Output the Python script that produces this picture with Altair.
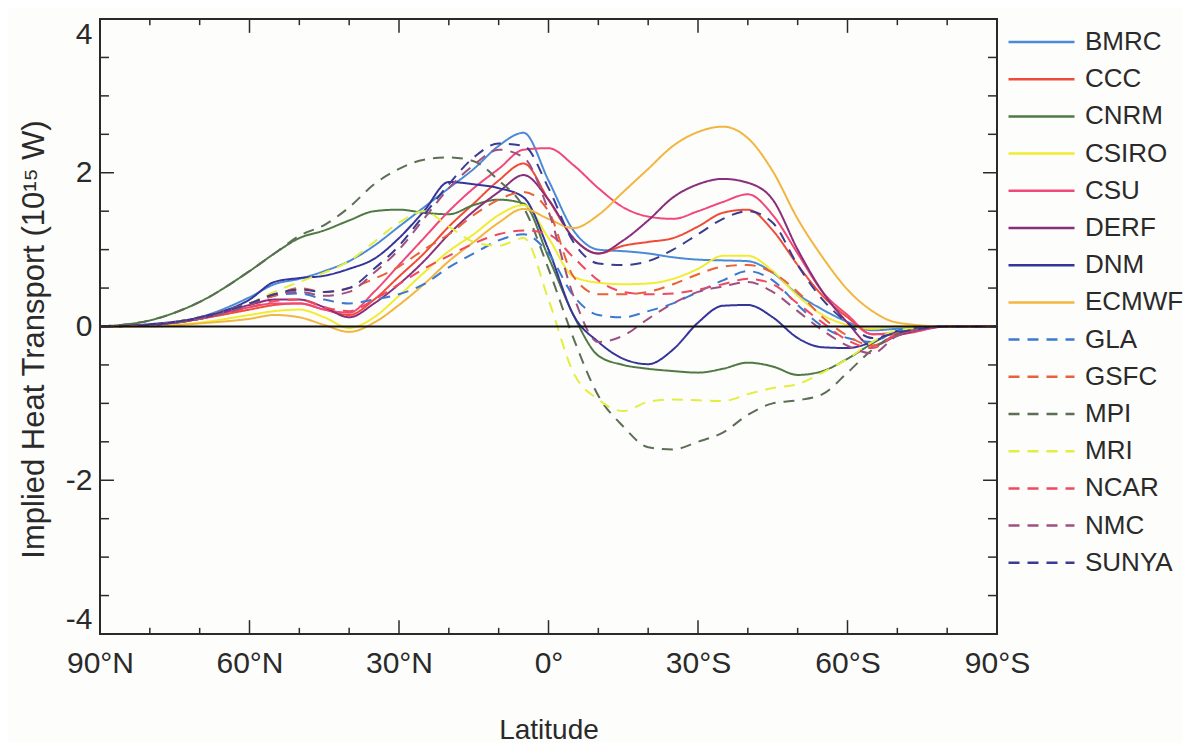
import altair as alt
import pandas as pd

LAT = [90, 80, 70, 60, 55, 50, 45, 40, 35, 30, 25, 20, 15, 10, 5, 0, -5, -10, -15, -20,
       -25, -30, -35, -40, -45, -50, -55, -60, -65, -70, -80, -90]

MODELS = ["BMRC", "CCC", "CNRM", "CSIRO", "CSU", "DERF", "DNM", "ECMWF",
          "GLA", "GSFC", "MPI", "MRI", "NCAR", "NMC", "SUNYA"]

COLORS = ["#4a8ad8", "#f04a38", "#4f7a44", "#f0ec30", "#f0487a", "#8a2e7c", "#34349a", "#f2b640",
          "#3c78d0", "#e8603c", "#5c6e56", "#e2ee40", "#f04860", "#a05080", "#3a3c90"]

BMRC = [0, 0.02, 0.12, 0.38, 0.55, 0.62, 0.72, 0.85, 1.05, 1.3, 1.55, 1.8, 2.05, 2.35, 2.52, 1.9, 1.25, 1.0, 0.98, 0.95,
        0.9, 0.87, 0.86, 0.85, 0.7, 0.42, 0.22, 0.06, -0.05, -0.03, 0, 0]
CCC = [0, 0.02, 0.1, 0.22, 0.28, 0.3, 0.22, 0.15, 0.35, 0.65, 0.95, 1.3, 1.6, 1.9, 2.12, 1.65, 1.15, 0.95, 1.05, 1.1,
       1.15, 1.3, 1.48, 1.52, 1.25, 0.8, 0.4, 0.12, -0.1, -0.08, 0, 0]
CNRM = [0, 0.08, 0.32, 0.72, 0.95, 1.15, 1.25, 1.38, 1.5, 1.52, 1.48, 1.46, 1.58, 1.65, 1.6, 0.9, 0.15, -0.38, -0.5, -0.55,
        -0.58, -0.6, -0.55, -0.47, -0.52, -0.63, -0.58, -0.42, -0.22, -0.06, 0, 0]
CSIRO = [0, 0.01, 0.05, 0.15, 0.2, 0.22, 0.12, -0.02, 0.12, 0.4, 0.7, 0.98, 1.2, 1.45, 1.58, 1.15, 0.65, 0.57, 0.55, 0.56,
         0.62, 0.75, 0.92, 0.92, 0.72, 0.4, 0.15, 0.02, -0.03, 0, 0, 0]
CSU = [0, 0.02, 0.1, 0.25, 0.3, 0.3, 0.22, 0.18, 0.45, 0.8, 1.15, 1.5, 1.8, 2.05, 2.3, 2.32, 2.1, 1.8, 1.55, 1.43,
       1.4, 1.5, 1.62, 1.72, 1.45, 0.95, 0.45, 0.15, -0.1, -0.1, 0, 0]
DERF = [0, 0.02, 0.1, 0.28, 0.35, 0.35, 0.25, 0.12, 0.3, 0.55, 0.85, 1.2, 1.5, 1.75, 1.97, 1.65, 1.15, 0.95, 1.12, 1.38,
        1.68, 1.85, 1.92, 1.87, 1.65, 1.0, 0.45, 0.05, -0.25, -0.12, 0, 0]
DNM = [0, 0.03, 0.12, 0.35, 0.58, 0.63, 0.66, 0.75, 0.88, 1.15, 1.5, 1.88, 1.85, 1.8, 1.68, 1.0, 0.15, -0.2, -0.42, -0.49,
       -0.3, 0.05, 0.27, 0.28, 0.12, -0.15, -0.27, -0.28, -0.2, -0.06, 0, 0]
ECMWF = [0, 0, 0.04, 0.1, 0.15, 0.12, 0.02, -0.07, 0.05, 0.28, 0.55, 0.85, 1.1, 1.35, 1.53, 1.4, 1.28, 1.45, 1.75, 2.05,
         2.35, 2.53, 2.6, 2.45, 2.02, 1.4, 0.9, 0.48, 0.2, 0.05, 0, 0]
GLA = [0, 0.02, 0.1, 0.3, 0.4, 0.43, 0.35, 0.3, 0.35, 0.42, 0.55, 0.77, 0.95, 1.12, 1.2, 0.95, 0.4, 0.15, 0.12, 0.2,
       0.3, 0.45, 0.6, 0.72, 0.6, 0.28, 0.0, -0.15, -0.2, -0.05, 0, 0]
GSFC = [0, 0.02, 0.12, 0.3, 0.4, 0.5, 0.45, 0.5, 0.62, 0.78, 1.0, 1.2, 1.45, 1.65, 1.75, 1.5, 0.65, 0.42, 0.42, 0.45,
        0.55, 0.68, 0.78, 0.8, 0.7, 0.45, 0.12, -0.12, -0.25, -0.1, 0, 0]
MPI = [0, 0.08, 0.32, 0.72, 0.95, 1.18, 1.32, 1.55, 1.85, 2.05, 2.17, 2.2, 2.15, 1.9, 1.55, 0.75, -0.15, -0.9, -1.3, -1.57,
       -1.6, -1.5, -1.38, -1.15, -1.0, -0.96, -0.88, -0.6, -0.3, -0.1, 0, 0]
MRI = [0, 0.02, 0.12, 0.3, 0.45, 0.58, 0.7, 0.85, 1.1, 1.35, 1.5, 1.3, 1.1, 1.05, 1.15, 0.35, -0.6, -0.95, -1.1, -0.98,
       -0.95, -0.96, -0.97, -0.88, -0.8, -0.75, -0.6, -0.42, -0.2, -0.05, 0, 0]
NCAR = [0, 0.02, 0.1, 0.25, 0.33, 0.35, 0.25, 0.2, 0.35, 0.55, 0.75, 0.92, 1.08, 1.2, 1.25, 1.2, 0.9, 0.6, 0.45, 0.42,
        0.43, 0.48, 0.55, 0.62, 0.55, 0.3, 0.05, -0.18, -0.28, -0.1, 0, 0]
NMC = [0, 0.02, 0.1, 0.28, 0.42, 0.45, 0.4, 0.45, 0.7, 1.0, 1.4, 1.8, 2.1, 2.3, 2.2, 1.5, 0.4, -0.2, -0.12, 0.1,
       0.3, 0.45, 0.52, 0.58, 0.45, 0.2, -0.05, -0.25, -0.35, -0.12, 0, 0]
SUNYA = [0, 0.02, 0.12, 0.3, 0.42, 0.48, 0.45, 0.5, 0.75, 1.05, 1.45, 1.85, 2.2, 2.38, 2.35, 1.8, 1.1, 0.82, 0.8, 0.85,
         1.0, 1.2, 1.4, 1.5, 1.35, 0.8, 0.35, 0.05, -0.15, -0.08, 0, 0]

SERIES = [BMRC, CCC, CNRM, CSIRO, CSU, DERF, DNM, ECMWF, GLA, GSFC, MPI, MRI, NCAR, NMC, SUNYA]

XT_MAJOR = [90, 60, 30, 0, -30, -60, -90]
XT_MINOR = [80, 70, 50, 40, 20, 10, -10, -20, -40, -50, -70, -80]
YT_MAJOR = [-4, -2, 0, 2, 4]
YT_MINOR = [-3.5, -3, -2.5, -1.5, -1, -0.5, 0.5, 1, 1.5, 2.5, 3, 3.5]

FONT = "Liberation Sans"
INK = "#2a2a2a"
SOLID = [1, 0]
DASH = [11, 8]
DASHES = [SOLID] * 8 + [DASH] * 7

rows = []
for m, vals in zip(MODELS, SERIES):
    for la, v in zip(LAT, vals):
        rows.append({"lat": la, "value": v, "model": m})
df = pd.DataFrame(rows)

xscale = alt.Scale(domain=[90, -90], nice=False, zero=False)
yscale = alt.Scale(domain=[-4, 4], nice=False)

xaxis = alt.Axis(title="Latitude", values=XT_MAJOR,
                 labelExpr="datum.value == 0 ? '0°' : (abs(datum.value) + '°' + (datum.value > 0 ? 'N' : 'S'))",
                 ticks=False, tickSize=0, domain=False, grid=False, labelFlush=False,
                 labelFontSize=30, labelFont=FONT, labelColor=INK, labelPadding=14,
                 titleFontSize=28, titleFont=FONT, titleFontWeight="normal", titleColor=INK, titlePadding=38)
yaxis = alt.Axis(title="Implied Heat Transport (10¹⁵ W)", values=YT_MAJOR,
                 labelExpr="'' + datum.value",
                 ticks=False, tickSize=0, domain=False, grid=False, labelFlush=True, labelFlushOffset=0,
                 labelFontSize=30, labelFont=FONT, labelColor=INK, labelPadding=8,
                 titleFontSize=31, titleFont=FONT, titleFontWeight="normal", titleColor=INK,
                 titleX=-57, titleY=320, titleBaseline="alphabetic")

X = alt.X("lat:Q", scale=xscale, axis=xaxis)
Y = alt.Y("value:Q", scale=yscale, axis=yaxis)

leg = alt.Legend(title=None, orient="none", legendX=907, legendY=13, symbolType="stroke",
                 symbolSize=4356, symbolStrokeWidth=2.5, labelFontSize=26, labelFont=FONT,
                 labelColor=INK, labelOffset=9, rowPadding=11.2, clipHeight=20, padding=0)

lines = alt.Chart(df).mark_line(strokeWidth=2, interpolate="monotone").encode(
    x=X, y=Y,
    color=alt.Color("model:N", scale=alt.Scale(domain=MODELS, range=COLORS), legend=leg),
    strokeDash=alt.StrokeDash("model:N", scale=alt.Scale(domain=MODELS, range=DASHES), legend=leg),
    order=alt.Order("lat:Q", sort="descending"),
)

zero = alt.Chart(pd.DataFrame({"value": [0]})).mark_rule(color="#111", strokeWidth=2.2).encode(y=Y)

def xticks(vals, y0, y1):
    return alt.Chart(pd.DataFrame({"lat": vals})).mark_rule(color=INK, strokeWidth=1.5).encode(
        x=X, y=alt.datum(y0), y2=alt.datum(y1))

def yticks(vals, x0, x1):
    return alt.Chart(pd.DataFrame({"value": vals})).mark_rule(color=INK, strokeWidth=1.5).encode(
        y=Y, x=alt.datum(x0), x2=alt.datum(x1))

tick_layers = [
    xticks(XT_MAJOR, -4, -3.82), xticks(XT_MINOR, -4, -3.92),
    xticks(XT_MAJOR, 4, 3.82), xticks(XT_MINOR, 4, 3.92),
    yticks(YT_MAJOR, 90, 87.2), yticks(YT_MINOR, 90, 88.2),
    yticks(YT_MAJOR, -90, -87.2), yticks(YT_MINOR, -90, -88.2),
]

chart = alt.layer(lines, zero, *tick_layers).properties(
    width=897, height=615,
    padding={"left": 92, "top": 11, "right": 186, "bottom": 109},
    autosize=alt.AutoSizeParams(type="none"),
    background="#fdfdfb",
).configure_view(stroke=INK, strokeWidth=2)

chart.save("out.html", embed_options={"renderer": "svg", "actions": False})
